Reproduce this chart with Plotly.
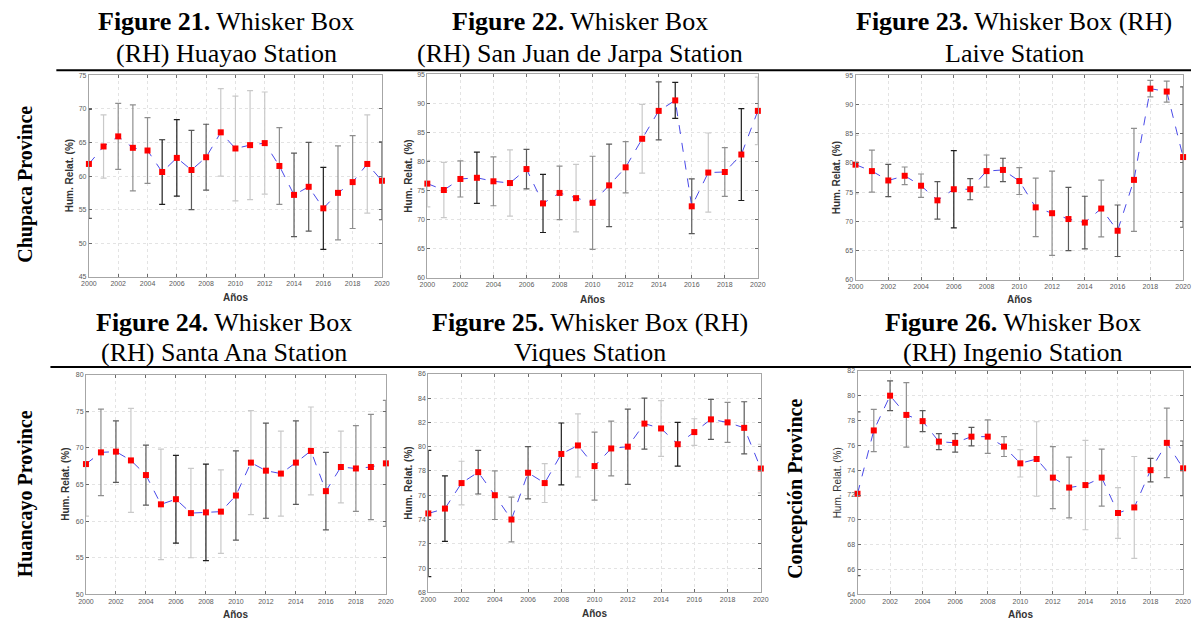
import plotly.graph_objects as go

years = list(range(2000, 2021))
x_ticks = list(range(2000, 2021, 2))

# ---- Huayao (Figure 21) ----
huayao_mean = [61.8, 64.4, 65.9, 64.2, 63.8, 60.6, 62.7, 60.9, 62.8, 66.5, 64.1,
               64.6, 64.9, 61.5, 57.2, 58.4, 55.2, 57.5, 59.1, 61.8, 59.3]
huayao_err = [8.1, 4.7, 4.9, 6.4, 4.9, 4.8, 5.7, 5.9, 4.9, 6.5, 7.8,
              8.1, 7.6, 5.7, 6.2, 6.6, 6.1, 7.0, 6.9, 7.3, 5.8]
huayao_shade = [1, 3, 2, 2, 2, 0, 0, 1, 1, 3, 3, 3, 3, 2, 1, 1, 0, 2, 2, 3, 1]

# ---- San Juan de Jarpa (Figure 22) ----
sanjuan_mean = [76.2, 75.1, 77.0, 77.2, 76.6, 76.3, 78.7, 72.8, 74.6, 73.7, 72.9,
                75.9, 79.0, 83.9, 88.7, 90.5, 72.3, 78.1, 78.2, 81.2, 88.7]
sanjuan_err = [4.0, 4.75, 3.1, 4.4, 4.2, 5.7, 3.4, 5.0, 4.6, 5.8, 8.0,
               7.1, 4.4, 5.9, 5.0, 3.1, 4.7, 6.8, 4.2, 7.9, 5.8]
sanjuan_shade = [3, 3, 2, 0, 2, 3, 1, 0, 2, 3, 2, 1, 2, 3, 1, 0, 1, 3, 2, 0, 3]

# ---- Laive (Figure 23) ----
laive_mean = [79.7, 78.6, 77.0, 77.8, 76.1, 73.6, 75.5, 75.5, 78.6, 78.8, 76.9,
              72.4, 71.4, 70.4, 69.8, 72.2, 68.4, 77.1, 92.7, 92.2, 81.0]
laive_err = [5.0, 3.6, 2.75, 1.5, 2.0, 3.2, 6.6, 1.8, 2.75, 2.0, 2.3,
             5.0, 7.2, 5.4, 4.5, 4.85, 4.4, 8.8, 1.4, 1.8, 12.0]
laive_shade = [3, 2, 1, 2, 2, 1, 0, 1, 2, 1, 2, 2, 2, 1, 1, 2, 1, 2, 2, 2, 1]

# ---- Santa Ana (Figure 24) ----
santaana_mean = [67.8, 69.4, 69.5, 68.3, 66.3, 62.3, 63.0, 61.1, 61.2, 61.3, 63.5,
                 68.0, 66.9, 66.5, 68.0, 69.6, 64.1, 67.4, 67.2, 67.4, 67.9]
santaana_err = [7.1, 5.9, 4.2, 7.1, 4.1, 7.55, 6.0, 6.1, 6.6, 5.7, 6.1,
                7.1, 6.5, 5.8, 5.7, 6.0, 5.3, 4.9, 5.85, 7.2, 8.6]
santaana_shade = [3, 2, 1, 3, 1, 3, 0, 3, 0, 3, 1, 3, 1, 3, 1, 3, 1, 3, 2, 2, 2]

# ---- Viques (Figure 25) ----
viques_mean = [74.5, 74.9, 77.0, 77.9, 76.0, 74.0, 77.85, 77.0, 79.4, 80.1, 78.4,
               79.85, 80.0, 81.9, 81.5, 80.2, 81.2, 82.25, 82.0, 81.55, 78.2]
viques_err = [5.2, 2.7, 1.8, 1.8, 2.0, 1.85, 2.15, 1.6, 2.55, 2.6, 2.8,
              2.25, 3.1, 2.1, 2.3, 1.8, 1.1, 1.65, 1.65, 2.15, 2.0]
viques_shade = [0, 0, 3, 1, 2, 2, 1, 3, 0, 3, 2, 2, 1, 1, 3, 0, 3, 1, 2, 1, 3]

# ---- Ingenio (Figure 26) ----
ingenio_mean = [72.1, 77.2, 80.0, 78.45, 77.95, 76.3, 76.2, 76.7, 76.7, 75.9, 74.55,
                74.9, 73.4, 72.6, 72.8, 73.4, 70.55, 71.0, 74.0, 76.2, 74.15]
ingenio_err = [6.6, 1.7, 1.2, 2.6, 0.85, 0.65, 0.75, 0.75, 1.35, 0.8, 1.1,
               3.0, 2.5, 2.45, 3.6, 2.3, 2.05, 4.1, 0.95, 2.8, 2.2]
ingenio_shade = [1, 2, 1, 2, 1, 1, 1, 1, 2, 2, 3, 3, 2, 2, 3, 2, 3, 3, 1, 2, 1]

W, H = 1199, 626
SHADES = ["#1e1e1e", "#5a5a5a", "#8e8e8e", "#c9c9c9"]


def px_x(v):
    return v / W


def px_y(v):
    return 1 - v / H


panels = [
    dict(mean=huayao_mean, err=huayao_err, shade=huayao_shade,
         box=(82, 379, 72, 276), yr=(45, 75), dtick=5, ytx=62, xty=297, bold=True),
    dict(mean=sanjuan_mean, err=sanjuan_err, shade=sanjuan_shade,
         box=(425, 760, 71, 277), yr=(60, 95), dtick=5, ytx=405, xty=299, bold=True),
    dict(mean=laive_mean, err=laive_err, shade=laive_shade,
         box=(859, 1191, 72, 279), yr=(60, 95), dtick=5, ytx=840, xty=299, bold=True),
    dict(mean=santaana_mean, err=santaana_err, shade=santaana_shade,
         box=(79, 383, 375, 597), yr=(50, 80), dtick=5, ytx=58, xty=617, bold=True),
    dict(mean=viques_mean, err=viques_err, shade=viques_shade,
         box=(426, 763, 374, 595), yr=(68, 86), dtick=2, ytx=405, xty=616, bold=True),
    dict(mean=ingenio_mean, err=ingenio_err, shade=ingenio_shade,
         box=(861, 1191, 371, 597), yr=(64, 82), dtick=2, ytx=841, xty=617, bold=False),
]

fig = go.Figure()
annotations = []
shapes = []

for i, p in enumerate(panels, start=1):
    xa = "x" if i == 1 else f"x{i}"
    ya = "y" if i == 1 else f"y{i}"
    x0, x1, y0, y1 = p["box"]
    axis_common = dict(
        showgrid=True, gridcolor="#e3e3e3", griddash="dot", gridwidth=1,
        showline=True, linecolor="#a6a6a6", linewidth=1, mirror="ticks",
        ticks="inside", ticklen=3, tickcolor="#6a6a6a",
        tickfont=dict(family="Liberation Sans, Arial", size=7, color="#5a5a5a"),
        zeroline=False,
    )
    fig.update_layout(**{
        ("xaxis" if i == 1 else f"xaxis{i}"): dict(
            domain=[px_x(x0), px_x(x1)], anchor=ya, range=[2000, 2020],
            tickvals=x_ticks, ticktext=[str(t) for t in x_ticks], **axis_common),
        ("yaxis" if i == 1 else f"yaxis{i}"): dict(
            domain=[px_y(y1), px_y(y0)], anchor=xa, range=list(p["yr"]),
            dtick=p["dtick"], tick0=p["yr"][0], **axis_common),
    })
    # error bars, one trace per year so each whisker gets its own grey
    for k, yv in enumerate(years):
        fig.add_trace(go.Scatter(
            x=[yv], y=[p["mean"][k]], xaxis=xa, yaxis=ya, mode="markers",
            marker=dict(size=1, opacity=0),
            error_y=dict(type="data", array=[p["err"][k]], visible=True,
                         color=SHADES[p["shade"][k]], thickness=1.2, width=3),
            showlegend=False, hoverinfo="skip"))
    fig.add_trace(go.Scatter(
        x=years, y=p["mean"], xaxis=xa, yaxis=ya, mode="lines+markers",
        line=dict(color="#4a4ae8", width=1, dash="dash"),
        marker=dict(symbol="square", size=6, color="#ff0000"),
        cliponaxis=False, showlegend=False))
    ytxt = "Hum. Relat. (%)"
    annotations.append(dict(
        x=px_x(p["ytx"]), y=px_y((y0 + y1) / 2), xref="paper", yref="paper",
        text=ytxt if not p["bold"] else f"<b>{ytxt}</b>", textangle=-90,
        showarrow=False, xanchor="center", yanchor="middle",
        font=dict(family="Liberation Sans, Arial", size=10, color="#333333")))
    annotations.append(dict(
        x=px_x((x0 + x1) / 2), y=px_y(p["xty"]), xref="paper", yref="paper",
        text="<b>Años</b>", showarrow=False, xanchor="center", yanchor="middle",
        font=dict(family="Liberation Sans, Arial", size=10, color="#333333")))

titles = [
    (221, 18, "<b>Figure 21.</b> Whisker Box"), (221, 50, "(RH) Huayao Station"),
    (580, 18, "<b>Figure 22.</b> Whisker Box"), (580, 50, "(RH) San Juan de Jarpa Station"),
    (1020, 18, "<b>Figure 23.</b> Whisker Box (RH)"), (1020, 50, "Laive Station"),
    (219, 322, "<b>Figure 24.</b> Whisker Box"), (219, 352, "(RH) Santa Ana Station"),
    (590, 322, "<b>Figure 25.</b> Whisker Box (RH)"), (590, 352, "Viques Station"),
    (1019, 322, "<b>Figure 26.</b> Whisker Box"), (1019, 352, "(RH) Ingenio Station"),
]
for tx, ty, txt in titles:
    annotations.append(dict(
        x=px_x(tx), y=px_y(ty), xref="paper", yref="paper", text=txt,
        showarrow=False, xanchor="center", yanchor="middle",
        font=dict(family="Liberation Serif, Times New Roman", size=26, color="#000000")))

row_labels = [(18, 182, "Chupaca Province"), (18, 495, "Huancayo Province"),
              (798, 490, "Concepción Province")]
for lx, ly, txt in row_labels:
    annotations.append(dict(
        x=px_x(lx), y=px_y(ly), xref="paper", yref="paper", text=f"<b>{txt}</b>",
        textangle=-90, showarrow=False, xanchor="center", yanchor="middle",
        font=dict(family="Liberation Serif, Times New Roman", size=20, color="#000000")))

for ly, lx0 in [(67, 49), (367, 43)]:
    shapes.append(dict(type="line", xref="paper", yref="paper",
                       x0=px_x(lx0), x1=1.0, y0=px_y(ly), y1=px_y(ly),
                       line=dict(color="#000000", width=2)))

fig.update_layout(
    width=W, height=H, margin=dict(l=0, r=0, t=0, b=0),
    paper_bgcolor="white", plot_bgcolor="white",
    annotations=annotations, shapes=shapes, showlegend=False,
)

fig.write_html("out.html",
               config={"displayModeBar": False},
               post_script="document.body.style.margin='0px';"
                           "document.body.style.padding='0px';"
                           "document.body.style.overflow='hidden';")
